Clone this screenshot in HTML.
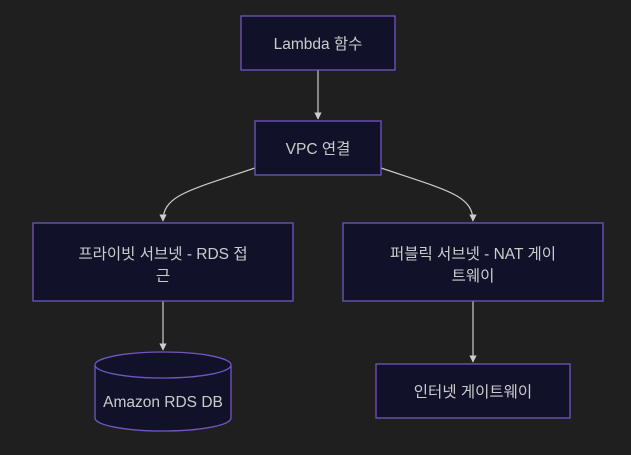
<!DOCTYPE html>
<html><head><meta charset="utf-8"><style>
html,body{margin:0;padding:0;background:#1f1f1f;}
svg text{font-family:"Liberation Sans","Noto Sans CJK KR",sans-serif;font-size:15.5px;fill:#cccccc;text-anchor:middle;}
</style></head><body>
<svg width="631" height="450" viewBox="0 0 631 450" xmlns="http://www.w3.org/2000/svg">
<defs><marker id="a" viewBox="0 0 10 10" refX="9" refY="5" markerWidth="6" markerHeight="6" orient="auto"><path d="M0,0L10,5L0,10z" fill="#cccccc"/></marker></defs>
<g fill="none" stroke="#cccccc" stroke-width="1.2">
<path d="M318,70L318,119" marker-end="url(#a)"/>
<path d="M255,168C190,190 163,195 163,221" marker-end="url(#a)"/>
<path d="M381,168C446,190 473,195 473,221" marker-end="url(#a)"/>
<path d="M163,301L163,350" marker-end="url(#a)"/>
<path d="M473,301L473,362" marker-end="url(#a)"/>
</g>
<g fill="#11112a" stroke="#7256c0" stroke-width="1.3">
<rect x="241" y="16" width="154" height="54"/>
<rect x="255" y="121" width="126" height="54"/>
<rect x="33" y="223" width="260" height="78"/>
<rect x="343" y="223" width="260" height="78"/>
<rect x="376" y="364" width="194" height="54"/>
<path d="M95,365A68,13 0 0 1 231,365L231,418A68,13 0 0 1 95,418Z"/>
<path d="M95,365A68,13 0 0 0 231,365"/>
</g>
<text x="318" y="49">Lambda 함수</text>
<text x="318" y="154">VPC 연결</text>
<text x="163" y="259">프라이빗 서브넷 - RDS 접</text>
<text x="163" y="281">근</text>
<text x="473" y="259">퍼블릭 서브넷 - NAT 게이</text>
<text x="473" y="281">트웨이</text>
<text x="163" y="407">Amazon RDS DB</text>
<text x="473" y="397">인터넷 게이트웨이</text>
</svg>
</body></html>
